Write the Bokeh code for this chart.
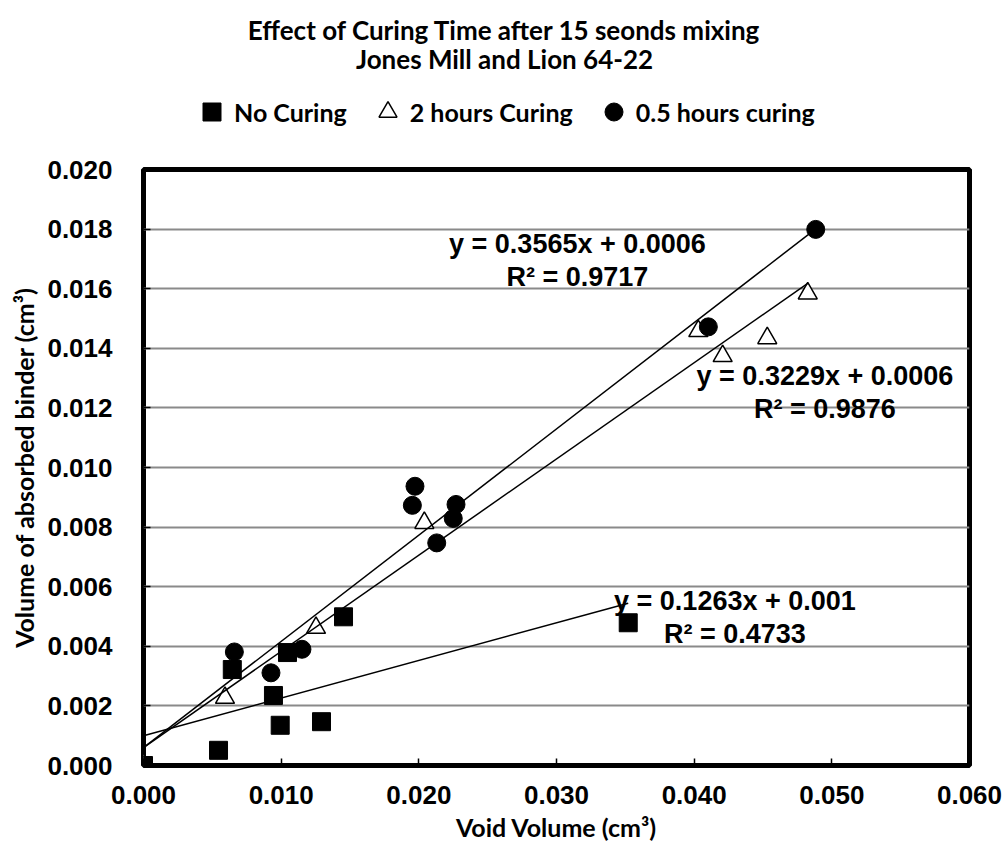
from bokeh.plotting import figure
from bokeh.layouts import column
from bokeh.models import (Range1d, FixedTicker, NumeralTickFormatter, Legend,
                          LegendItem, Label)
from bokeh.embed import file_html
from bokeh.resources import INLINE

# ---- measured samples: void volume (cm3) vs absorbed binder volume (cm3) ----
no_curing_x = [0.0, 0.00545, 0.00645, 0.00944, 0.00993, 0.01046, 0.01293, 0.01453, 0.03521]
no_curing_y = [0.0, 0.00051, 0.00322, 0.00235, 0.00135, 0.00379, 0.00147, 0.00499, 0.00479]

two_hours_x = [0.0, 0.00592, 0.01253, 0.02040, 0.04030, 0.04207, 0.04531, 0.04825]
two_hours_y = [0.0, 0.00227, 0.00462, 0.00814, 0.01458, 0.01374, 0.01434, 0.01584]

half_hour_x = [0.0, 0.00660, 0.00926, 0.01151, 0.01953, 0.01972, 0.02130, 0.02250, 0.02270, 0.04103, 0.04883]
half_hour_y = [0.0, 0.00381, 0.00311, 0.00390, 0.00873, 0.00937, 0.00747, 0.00829, 0.00876, 0.01472, 0.01799]

# linear trendlines (slope, intercept, R^2) per series
fit_no_curing = (0.1263, 0.001, 0.4733)
fit_two_hours = (0.3229, 0.0006, 0.9876)
fit_half_hour = (0.3565, 0.0006, 0.9717)

# equation label anchor points (data space)
eq_pos_half_hour = (0.03152, 0.01696)
eq_pos_two_hours = (0.04950, 0.01253)
eq_pos_no_curing = (0.04296, 0.00495)

x_ticks = [0.0, 0.01, 0.02, 0.03, 0.04, 0.05, 0.06]
y_ticks = [0.0, 0.002, 0.004, 0.006, 0.008, 0.010, 0.012, 0.014, 0.016, 0.018, 0.020]

title_lines = ["Effect of Curing Time after 15 seonds mixing", "Jones Mill and Lion 64-22"]
series_names = ["No Curing", "2 hours Curing", "0.5 hours curing"]

ARIAL = "Liberation Sans"
SANS = "Lato"

W = 1005
HEADER_H = 149
MAIN_H = 853 - HEADER_H

# marker styles shared by the chart and the legend
sq_style = dict(marker="square", size=18, fill_color="black", line_color="black")
tri_style = dict(marker="triangle", size=19, fill_color="white",
                 line_color="black", line_width=1.5)
dot_style = dict(marker="circle", size=18, fill_color="black", line_color="black")

# ------------------------------ main chart ------------------------------
p = figure(width=W, height=MAIN_H, output_backend="svg", toolbar_location=None,
           x_range=Range1d(0, 0.06), y_range=Range1d(0, 0.02),
           min_border_left=143, min_border_right=36, min_border_top=20,
           min_border_bottom=88)

p.background_fill_color = "white"
p.border_fill_color = "white"
p.outline_line_color = "black"
p.outline_line_width = 5

for ax in (p.xaxis[0], p.yaxis[0]):
    ax.formatter = NumeralTickFormatter(format="0.000")
    ax.major_label_text_font = ARIAL
    ax.major_label_text_font_style = "bold"
    ax.major_label_text_font_size = "26px"
    ax.major_label_text_color = "black"
    ax.axis_line_color = None
    ax.major_tick_in = 7
    ax.major_tick_out = 0
    ax.major_tick_line_color = "black"
    ax.major_tick_line_width = 1.5
    ax.minor_tick_line_color = None
    ax.axis_label_text_font = SANS
    ax.axis_label_text_font_style = "bold"
    ax.axis_label_text_font_size = "25px"
    ax.axis_label_text_color = "black"

p.xaxis.ticker = FixedTicker(ticks=x_ticks)
p.yaxis.ticker = FixedTicker(ticks=y_ticks)
p.xaxis.axis_label = "Void Volume (cm³)"
p.yaxis.axis_label = "Volume of absorbed binder (cm³)"
p.xaxis.major_label_standoff = 20
p.xaxis.axis_label_standoff = 5
p.yaxis.major_label_standoff = 31
p.yaxis.axis_label_standoff = 5

p.xgrid.grid_line_color = None
p.ygrid.grid_line_color = "#8a8a8a"
p.ygrid.grid_line_width = 2

# markers (triangles underneath, squares on top)
p.scatter(two_hours_x, two_hours_y, **tri_style)
p.scatter(half_hour_x, half_hour_y, **dot_style)
p.scatter(no_curing_x, no_curing_y, **sq_style)

# trendlines from x = 0 to the largest sample of each series
for xs, (m, b, _) in ((no_curing_x, fit_no_curing),
                      (two_hours_x, fit_two_hours),
                      (half_hour_x, fit_half_hour)):
    x_end = max(xs)
    p.line([0.0, x_end], [b, m * x_end + b], line_color="black", line_width=1.5)

# trendline equation boxes
for (m, b, r2), (lx, ly) in ((fit_half_hour, eq_pos_half_hour),
                             (fit_two_hours, eq_pos_two_hours),
                             (fit_no_curing, eq_pos_no_curing)):
    txt = f"y = {m:g}x + {b:g}\nR² = {r2:g}"
    p.add_layout(Label(x=lx, y=ly, text=txt, text_align="center",
                       text_baseline="middle", text_font=ARIAL,
                       text_font_style="bold", text_font_size="27px",
                       text_line_height=1.1, text_color="black"))

# ------------------------- header: title + legend -------------------------
# (its frame lines up with the chart frame, so x offsets start at the frame edge)
head = figure(width=W, height=HEADER_H, output_backend="svg", toolbar_location=None,
              x_range=Range1d(1, 2), y_range=Range1d(1, 2),
              x_axis_type=None, y_axis_type=None, min_border=0)
head.outline_line_color = None
head.background_fill_color = "white"
head.border_fill_color = "white"

# legend keys reuse the series (kept hidden; only their legend swatches show)
k_none = head.scatter(no_curing_x, no_curing_y, visible=False, **sq_style)
k_two = head.scatter(two_hours_x, two_hours_y, visible=False, **tri_style)
k_half = head.scatter(half_hour_x, half_hour_y, visible=False, **dot_style)

legend = Legend(items=[LegendItem(label=series_names[0], renderers=[k_none]),
                       LegendItem(label=series_names[1], renderers=[k_two]),
                       LegendItem(label=series_names[2], renderers=[k_half])],
                orientation="horizontal", location=(46, 15),
                glyph_width=45, glyph_height=45, label_standoff=0, spacing=18,
                padding=0, margin=0, border_line_color=None,
                background_fill_alpha=0, inactive_fill_alpha=0,
                label_text_font=SANS, label_text_font_style="bold",
                label_text_font_size="25px", label_text_color="black")
head.add_layout(legend, "center")

for i, line in enumerate(title_lines):
    head.add_layout(Label(x=361, y=HEADER_H - 29 - 29 * i, x_units="screen",
                          y_units="screen", text=line, text_align="center",
                          text_baseline="middle", text_font=SANS,
                          text_font_style="bold", text_font_size="26px",
                          text_color="black"))

layout = column(head, p, spacing=0)
open("out.html", "w").write(file_html(layout, INLINE))
